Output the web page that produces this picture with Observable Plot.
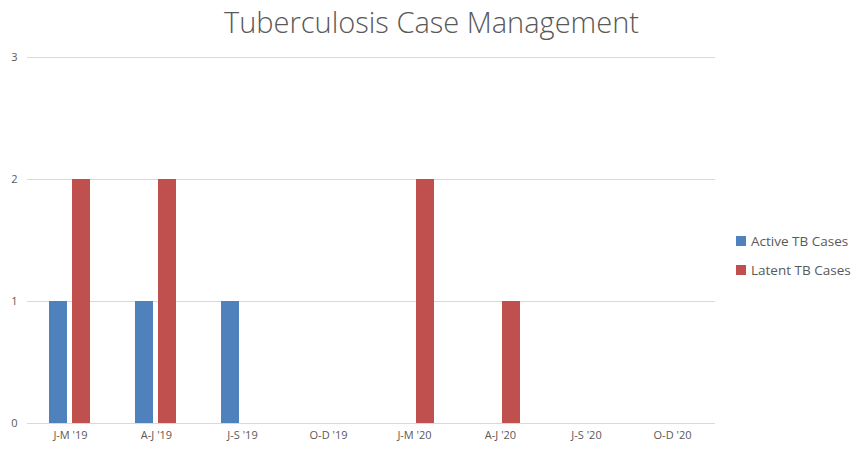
<!DOCTYPE html>
<html>
<head>
<meta charset="utf-8">
<script src="https://cdn.jsdelivr.net/npm/d3@7"></script>
<script src="https://cdn.jsdelivr.net/npm/@observablehq/plot@0.6"></script>
<style>
  body { margin: 0; background: #fff; font-family: "Open Sans", sans-serif; }
  #wrap { position: relative; width: 855px; height: 452px; }
  #title { height: 40px; text-align: center; font-size: 29px; font-weight: 300; color: #595959; line-height: 44px; padding-left: 8px; }
  #legend { position: absolute; left: 736px; top: 226px; font-size: 13.5px; color: #595959; }
  #legend div { display: flex; align-items: center; height: 29px; }
  #legend span.sw { display: inline-block; width: 10px; height: 10px; margin-right: 5px; }
</style>
</head>
<body>
<div id="wrap">
  <div id="title">Tuberculosis Case Management</div>
  <div id="chart"></div>
  <div id="legend"></div>
</div>
<script>
const quarters = ["J-M '19", "A-J '19", "J-S '19", "O-D '19", "J-M '20", "A-J '20", "J-S '20", "O-D '20"];
const series = ["Active TB Cases", "Latent TB Cases"];
const activeCases = [1, 1, 1, 0, 0, 0, 0, 0];
const latentCases = [2, 2, 0, 0, 2, 1, 0, 0];
const colors = ["#4f81bd", "#c0504d"];
const yTicks = [0, 1, 2, 3];

const rows = [];
quarters.forEach((q, i) => {
  rows.push({quarter: q, series: series[0], value: activeCases[i]});
  rows.push({quarter: q, series: series[1], value: latentCases[i]});
});

const chart = Plot.plot({
  width: 855,
  height: 412,
  marginLeft: 27,
  marginRight: 140,
  marginTop: 17,
  marginBottom: 29,
  style: {fontFamily: "Open Sans, sans-serif", fontSize: "11px", color: "#595959", background: "#fff"},
  fx: {domain: quarters, padding: 0, label: null, axis: "bottom", tickSize: 0, tickPadding: 8},
  x: {domain: series, paddingInner: 5/24, paddingOuter: 0.896, axis: null},
  y: {domain: [0, 3], ticks: yTicks, tickSize: 0, tickPadding: 10, label: null, tickFormat: d3.format("d")},
  color: {domain: series, range: colors},
  marks: [
    Plot.ruleY(yTicks, {stroke: "#d9d9d9", strokeWidth: 1}),
    Plot.barY(rows, {fx: "quarter", x: "series", y: "value", fill: "series"})
  ]
});
document.getElementById("chart").appendChild(chart);

const leg = document.getElementById("legend");
series.forEach((s, i) => {
  const d = document.createElement("div");
  d.innerHTML = `<span class="sw" style="background:${colors[i]}"></span>${s}`;
  leg.appendChild(d);
});
</script>
</body>
</html>
